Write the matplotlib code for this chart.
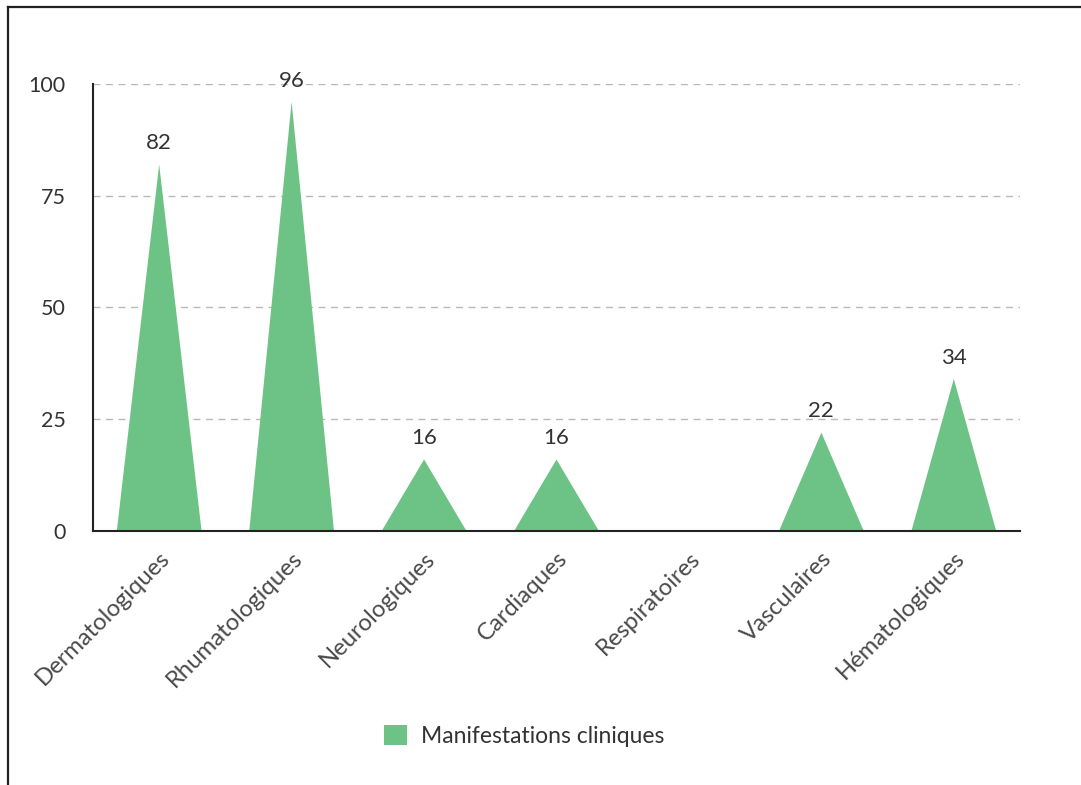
"""Clinical manifestations chart: triangle 'bars' per category."""
import matplotlib

matplotlib.use("Agg")
import matplotlib.pyplot as plt  # noqa: E402
from matplotlib.lines import Line2D  # noqa: E402
from matplotlib.patches import Patch  # noqa: E402

categories = [
    "Dermatologiques", "Rhumatologiques", "Neurologiques", "Cardiaques",
    "Respiratoires", "Vasculaires", "Hématologiques",
]
values = [82, 96, 16, 16, 0, 22, 34]
y_ticks = [0, 25, 50, 75, 100]
series_name = "Manifestations cliniques"

GREEN = "#6dc386"
TEXT = "#333333"

plt.rcParams["font.family"] = ["Lato", "DejaVu Sans"]

fig = plt.figure(figsize=(10.81, 7.85), dpi=100)
ax = fig.add_axes((0.086, 0.3236, 0.8576, 0.5694))

half = 0.32  # half base width in category units
for i, v in enumerate(values):
    if v <= 0:
        continue
    ax.fill([i - half, i, i + half], [0, v, 0], color=GREEN, lw=0, zorder=2)
    ax.text(i, v + 2.5, str(v), ha="center", va="bottom",
            fontsize=16, color=TEXT, zorder=3)

ax.set_xlim(-0.5, len(categories) - 0.5)
ax.set_ylim(0, 100)
ax.set_yticks(y_ticks)
ax.set_xticks(range(len(categories)))
ax.set_xticklabels(categories, rotation=45, ha="right", rotation_mode="anchor")
ax.tick_params(axis="both", length=0, labelcolor=TEXT)
ax.tick_params(axis="y", pad=19.5, labelsize=15.5)
ax.tick_params(axis="x", pad=12, labelsize=17.2)
for lbl in ax.get_xticklabels():
    lbl.set_color("#4a4a4a")

ax.grid(axis="y", color="#b8b8b8", linestyle=(0, (5, 4)), linewidth=1, zorder=0)
ax.set_axisbelow(True)
for side in ("top", "right"):
    ax.spines[side].set_visible(False)
for side in ("left", "bottom"):
    ax.spines[side].set_color("#222222")
    ax.spines[side].set_linewidth(1.5)
    ax.spines[side].set_zorder(4)

fig.legend(
    handles=[Patch(facecolor=GREEN, edgecolor="none", label=series_name)],
    loc="center", bbox_to_anchor=(0.485, 0.0625), frameon=False,
    fontsize=16.5, handlelength=1.0, handleheight=1.0, handletextpad=0.6,
    labelcolor=TEXT,
)

# outer frame (left and top edges only visible)
fig.add_artist(Line2D([0.0075, 0.0075], [0, 0.991], color="#222222", lw=1.6))
fig.add_artist(Line2D([0.0075, 1.0], [0.991, 0.991], color="#222222", lw=1.6))

fig.savefig("out.png", dpi=100)
